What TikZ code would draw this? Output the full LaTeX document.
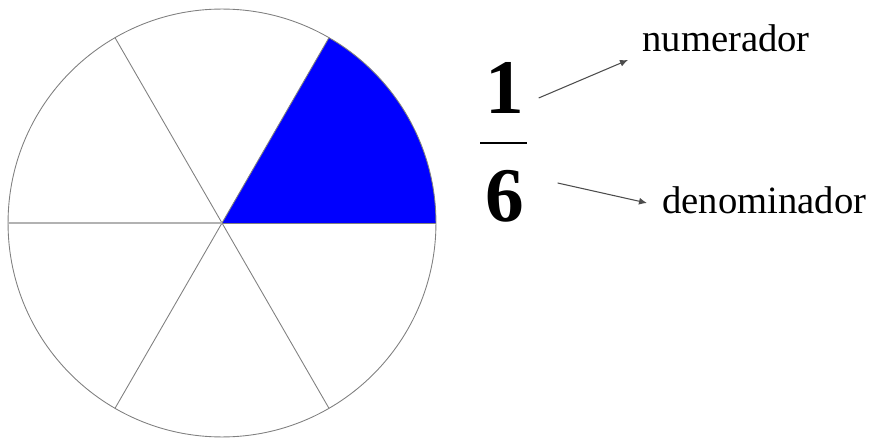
\documentclass[tikz,border=0pt]{standalone}
\usepackage{fontspec}
\setmainfont{Liberation Serif}
\usetikzlibrary{arrows.meta}

\begin{document}
\begin{tikzpicture}[
  x=0.02cm, y=-0.02cm,
  slice/.style={draw=black!50, line width=0.5pt},
  digit/.style={inner sep=0pt, font=\fontsize{44}{48}\selectfont\bfseries},
  lbl/.style={inner sep=0pt, anchor=base west, font=\fontsize{22}{26}\selectfont},
  arr/.style={-{Latex[length=1.6mm,width=1.4mm]}, draw=black!70, line width=0.6pt}]
\useasboundingbox (0,0) rectangle (879,439);
\coordinate (o) at (222,223);
\fill[blue] (o) -- ++(0:4.28cm) arc[start angle=0, end angle=60, radius=4.28cm] -- cycle;
\draw[slice] (o) circle[radius=4.28cm];
\foreach \a in {0,60,120,240,300} \draw[slice] (o) -- ++(\a:4.28cm);
\draw[draw=black!30, line width=1pt] (o) -- ++(180:4.28cm);
\node[digit] (num) at (505,88) {1};
\node[digit] (den) at (505,196) {6};
\draw[line width=1.5pt] (480,143) -- (527,143);
\node[lbl] (lblnum) at (642,52) {numerador};
\node[lbl] (lblden) at (662,213) {denominador};
\draw[arr] ([shift={(14,10)}]num.east) -- ([shift={(-14,8)}]lblnum.base west);
\draw[arr] ([shift={(33,-13)}]den.east) -- ([shift={(-15,-10)}]lblden.base west);
\end{tikzpicture}
\end{document}
